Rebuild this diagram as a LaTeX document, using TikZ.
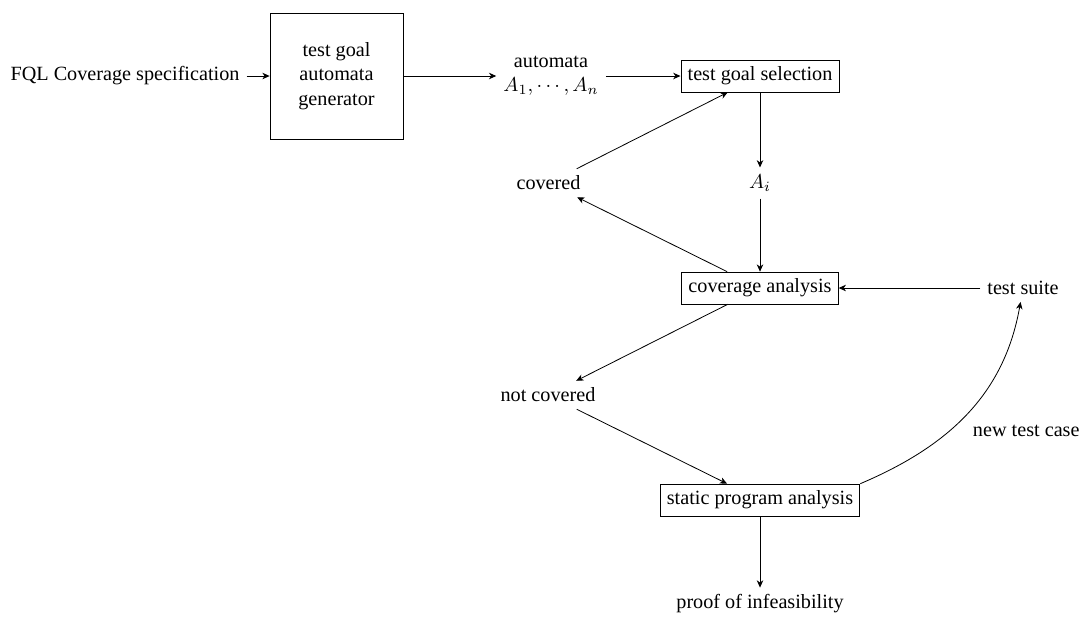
\documentclass[tikz,border=0pt]{standalone}
\usepackage[no-math]{fontspec}
\setmainfont{Liberation Serif}
\usetikzlibrary{arrows.meta}
\begin{document}
\begin{tikzpicture}[x=0.495pt,y=0.495pt,
  >={Stealth[length=3.6pt,width=3.2pt,inset=1.1pt]},
  proc/.style={draw,line width=0.4pt,inner sep=3.33pt},
  lbl/.style={inner sep=3.33pt},
  flow/.style={->,line width=0.4pt}]
\useasboundingbox (0,0) rectangle (1085,-622);

% nodes
\node[lbl] (fql) at (125,-76) {FQL Coverage specification};
\node[proc,minimum width=65.8pt,minimum height=62.4pt,align=center] (gen) at (336.5,-76)
  {test goal\\automata\\generator};
\node[lbl,align=center] (auto) at (551,-76) {automata\\$A_1,\cdots,A_n$};
\node[proc] (sel) at (760,-76) {test goal selection};
\node[lbl] (Ai) at (760,-183) {$A_i$};
\node[lbl] (covered) at (548.5,-183) {covered};
\node[proc] (cov) at (760,-288) {coverage analysis};
\node[lbl] (suite) at (1023,-288) {test suite};
\node[lbl] (notcov) at (548,-395) {not covered};
\node[proc] (static) at (760,-500) {static program analysis};
\node[lbl] (proof) at (760,-604) {proof of infeasibility};

% connectors
\draw[flow] (fql) -- (gen);
\draw[flow] (gen) -- (auto);
\draw[flow] (auto) -- (sel);
\draw[flow] (sel) -- (Ai);
\draw[flow] (Ai) -- (cov);
\draw[flow] (cov) -- (covered);
\draw[flow] (covered) -- (sel);
\draw[flow] (cov) -- (notcov);
\draw[flow] (notcov) -- (static);
\draw[flow] (suite) -- (cov);
\draw[flow] (static) -- (proof);
\draw[flow] (static.north east) to[out=23,in=260]
  node[pos=0.4,right=8pt,inner sep=3.33pt] (ntc) {new test case} (suite);
\end{tikzpicture}
\end{document}
